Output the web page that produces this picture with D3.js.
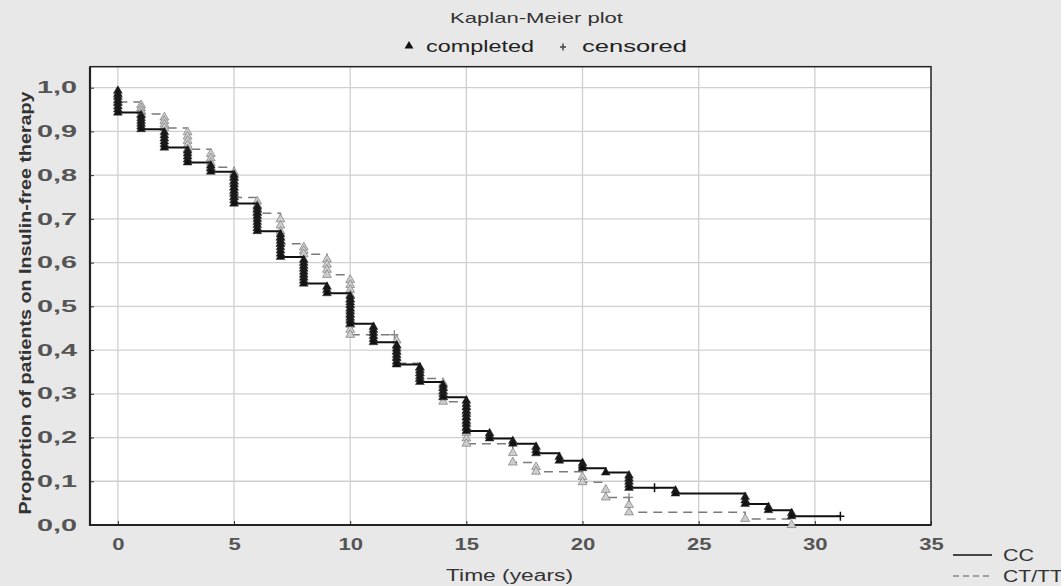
<!DOCTYPE html>
<html lang="en">
<head>
  <meta charset="UTF-8">
  <title>Kaplan-Meier plot</title>
  <script src="https://d3js.org/d3.v7.min.js"></script>
  <style>
    body { margin: 0; background: #e8e8e8; }
    svg { display: block; font-family: "Liberation Sans", Arial, sans-serif; }
  </style>
</head>
<body>
  <svg id="chart" width="1061" height="586"></svg>

  <script>
    // CC group: event times, survival after each event, number of events at that time
    const ccTime   = [0, 1, 2, 3, 4, 5, 6, 7, 8, 9, 10, 11, 12, 13, 14, 15, 16, 17, 18, 19, 20, 21, 22, 24, 27, 28, 29];
    const ccSurv   = [0.943, 0.905, 0.863, 0.829, 0.808, 0.735, 0.672, 0.613, 0.552, 0.530, 0.460, 0.418, 0.367, 0.327, 0.292, 0.215, 0.198, 0.186, 0.164, 0.147, 0.130, 0.120, 0.085, 0.072, 0.048, 0.034, 0.020];
    const ccEvents = [8, 6, 6, 5, 3, 10, 9, 8, 9, 3, 10, 6, 7, 6, 5, 10, 3, 2, 3, 2, 3, 1, 5, 2, 3, 2, 2];
    const ccCensT  = [23.1, 31.1];
    const ccCensS  = [0.085, 0.020];

    // CT/TT group
    const ctTime   = [0, 1, 2, 3, 4, 5, 6, 7, 8, 9, 10, 12, 13, 14, 15, 17, 18, 20, 21, 22, 27, 29];
    const ctSurv   = [0.967, 0.940, 0.908, 0.859, 0.818, 0.749, 0.713, 0.643, 0.619, 0.572, 0.435, 0.370, 0.335, 0.282, 0.186, 0.143, 0.122, 0.098, 0.063, 0.029, 0.014, 0.0];
    const ctEvents = [2, 4, 4, 5, 4, 6, 4, 5, 3, 4, 12, 5, 3, 5, 8, 2, 2, 2, 2, 2, 1, 1];
    const ctCensT  = [11.9, 22];
    const ctCensS  = [0.435, 0.063];

    const xTicks = [0, 5, 10, 15, 20, 25, 30, 35];
    const yTicks = [0, 0.1, 0.2, 0.3, 0.4, 0.5, 0.6, 0.7, 0.8, 0.9, 1.0];
    const yTickLabels = ["0,0", "0,1", "0,2", "0,3", "0,4", "0,5", "0,6", "0,7", "0,8", "0,9", "1,0"];

    const svg = d3.select("#chart");
    const plot = { left: 90, right: 931, top: 66.7, bottom: 525 };

    const x = d3.scaleLinear().domain([-1.2, 35]).range([plot.left, plot.right]);
    const y = d3.scaleLinear().domain([0, 1.048]).range([plot.bottom, plot.top]);

    // plot background
    svg.append("rect")
       .attr("x", plot.left).attr("y", plot.top)
       .attr("width", plot.right - plot.left).attr("height", plot.bottom - plot.top)
       .attr("fill", "#fff");

    // grid
    svg.append("g").selectAll("line")
       .data(xTicks.filter(d => d < 35))
       .enter().append("line")
       .attr("x1", d => x(d)).attr("x2", d => x(d))
       .attr("y1", plot.top).attr("y2", plot.bottom)
       .attr("stroke", "#cfcfcf").attr("stroke-width", 1.3);

    svg.append("g").selectAll("line")
       .data(yTicks.filter(d => d > 0))
       .enter().append("line")
       .attr("x1", plot.left).attr("x2", plot.right)
       .attr("y1", d => y(d)).attr("y2", d => y(d))
       .attr("stroke", "#cfcfcf").attr("stroke-width", 1.3);

    // axes (ticks pointing inside)
    const xAxis = svg.append("g")
       .attr("transform", `translate(0,${plot.bottom})`)
       .call(d3.axisBottom(x).tickValues(xTicks).tickSize(-4).tickPadding(14));
    xAxis.select(".domain").remove();
    xAxis.selectAll("line").attr("stroke", "#333");
    xAxis.selectAll("text")
       .attr("font-size", 16).attr("font-weight", "bold").attr("fill", "#555")
       .attr("font-family", "Liberation Sans, Arial, sans-serif")
       .attr("transform", "scale(1.38,1)");

    const yAxis = svg.append("g")
       .attr("transform", `translate(${plot.left},0)`)
       .call(d3.axisLeft(y).tickValues(yTicks).tickFormat((d, i) => yTickLabels[i]).tickSize(-4).tickPadding(13));
    yAxis.select(".domain").remove();
    yAxis.selectAll("line").attr("stroke", "#333");
    yAxis.selectAll("text")
       .attr("font-size", 16).attr("font-weight", "bold").attr("fill", "#555")
       .attr("font-family", "Liberation Sans, Arial, sans-serif")
       .attr("x", -13 / 1.8)
       .attr("transform", "scale(1.8,1)");

    // frame
    svg.append("rect")
       .attr("x", plot.left).attr("y", plot.top)
       .attr("width", plot.right - plot.left).attr("height", plot.bottom - plot.top)
       .attr("fill", "none").attr("stroke", "#222").attr("stroke-width", 1.5);
    svg.append("path")
       .attr("d", `M${plot.left},${plot.top}V${plot.bottom}H${plot.right}`)
       .attr("fill", "none").attr("stroke", "#222").attr("stroke-width", 2.2);

    // step curves
    function stepPoints(times, surv, endT) {
      const pts = [[times[0], 1]];
      times.forEach((t, i) => pts.push([t, surv[i]]));
      if (endT !== undefined) pts.push([endT, surv[surv.length - 1]]);
      return pts;
    }
    const line = d3.line().x(d => x(d[0])).y(d => y(d[1])).curve(d3.curveStepAfter);

    function markers(times, surv, events) {
      const out = [];
      times.forEach((t, i) => {
        const prev = i === 0 ? 1 : surv[i - 1];
        const n = events[i];
        for (let k = 1; k <= n; k++) out.push([t, prev - (prev - surv[i]) * k / n]);
      });
      return out;
    }

    const tri = d3.symbol().type(d3.symbolTriangle).size(34);
    const cross = "M-4,0H4M0,-4.5V4.5";

    // CT/TT (behind)
    svg.append("path")
       .attr("d", line(stepPoints(ctTime, ctSurv)))
       .attr("fill", "none").attr("stroke", "#7a7a7a").attr("stroke-width", 1.5)
       .attr("stroke-dasharray", "9,6");
    svg.append("g").selectAll("path")
       .data(markers(ctTime, ctSurv, ctEvents))
       .enter().append("path")
       .attr("d", tri)
       .attr("transform", d => `translate(${x(d[0])},${y(d[1])})`)
       .attr("fill", "#cdcdcd").attr("stroke", "#888").attr("stroke-width", 0.8);
    svg.append("g").selectAll("path")
       .data(ctCensT)
       .enter().append("path")
       .attr("d", cross)
       .attr("transform", (d, i) => `translate(${x(d)},${y(ctCensS[i])})`)
       .attr("stroke", "#888").attr("stroke-width", 1.3).attr("fill", "none");

    // CC (front)
    svg.append("path")
       .attr("d", line(stepPoints(ccTime, ccSurv, ccCensT[ccCensT.length - 1])))
       .attr("fill", "none").attr("stroke", "#111").attr("stroke-width", 2);
    svg.append("g").selectAll("path")
       .data(markers(ccTime, ccSurv, ccEvents))
       .enter().append("path")
       .attr("d", tri)
       .attr("transform", d => `translate(${x(d[0])},${y(d[1])})`)
       .attr("fill", "#111").attr("stroke", "#333").attr("stroke-width", 0.5);
    svg.append("g").selectAll("path")
       .data(ccCensT)
       .enter().append("path")
       .attr("d", cross)
       .attr("transform", (d, i) => `translate(${x(d)},${y(ccCensS[i])})`)
       .attr("stroke", "#111").attr("stroke-width", 1.5).attr("fill", "none");

    // title and top legend
    svg.append("text")
       .attr("x", 450).attr("y", 22.5)
       .attr("font-size", 15).attr("fill", "#333")
       .attr("textLength", 173).attr("lengthAdjust", "spacingAndGlyphs")
       .text("Kaplan-Meier plot");

    svg.append("path").attr("d", tri).attr("transform", "translate(409,46)").attr("fill", "#111");
    svg.append("text")
       .attr("x", 426).attr("y", 51.5)
       .attr("font-size", 16).attr("fill", "#222")
       .attr("textLength", 108).attr("lengthAdjust", "spacingAndGlyphs")
       .text("completed");
    svg.append("path").attr("d", "M-3,0H3M0,-3.5V3.5").attr("transform", "translate(563,47)")
       .attr("stroke", "#444").attr("stroke-width", 1.5);
    svg.append("text")
       .attr("x", 582).attr("y", 51.5)
       .attr("font-size", 16).attr("fill", "#222")
       .attr("textLength", 105).attr("lengthAdjust", "spacingAndGlyphs")
       .text("censored");

    // axis titles
    svg.append("text")
       .attr("transform", "translate(31,303) rotate(-90)")
       .attr("text-anchor", "middle")
       .attr("font-size", 17).attr("font-weight", "bold").attr("fill", "#333")
       .attr("textLength", 423).attr("lengthAdjust", "spacingAndGlyphs")
       .text("Proportion of patients on Insulin-free therapy");

    svg.append("text")
       .attr("x", 446).attr("y", 581)
       .attr("font-size", 16).attr("fill", "#333")
       .attr("textLength", 127).attr("lengthAdjust", "spacingAndGlyphs")
       .text("Time (years)");

    // group legend
    svg.append("line").attr("x1", 953).attr("x2", 992).attr("y1", 555).attr("y2", 555)
       .attr("stroke", "#111").attr("stroke-width", 1.5);
    svg.append("text").attr("x", 1003).attr("y", 561)
       .attr("font-size", 16).attr("fill", "#333")
       .attr("textLength", 31).attr("lengthAdjust", "spacingAndGlyphs")
       .text("CC");
    svg.append("line").attr("x1", 953).attr("x2", 992).attr("y1", 576).attr("y2", 576)
       .attr("stroke", "#888").attr("stroke-width", 1.5).attr("stroke-dasharray", "6,4");
    svg.append("text").attr("x", 1003).attr("y", 582)
       .attr("font-size", 16).attr("fill", "#333")
       .attr("textLength", 60).attr("lengthAdjust", "spacingAndGlyphs")
       .text("CT/TT");
  </script>
</body>
</html>
